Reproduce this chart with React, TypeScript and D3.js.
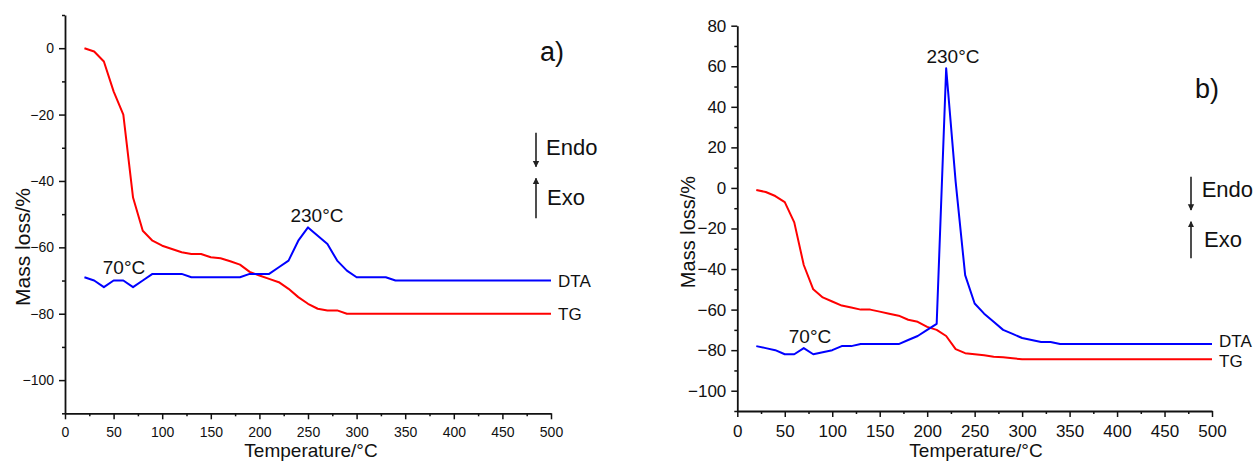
import { useEffect, useRef } from "react";
import * as d3 from "d3";

const W = 1254;
const H = 461;
const FONT = "'Liberation Sans', Arial, sans-serif";

// panel a) — TG (mass loss) and DTA traces
const tgATemp = [20, 30, 40, 50, 60, 70, 80, 90, 100, 110, 120, 130, 140, 150, 160, 170, 180, 190, 200, 210, 220, 230, 240, 250, 260, 270, 280, 290, 500];
const tgA = [0, -1, -4, -13, -20, -45, -55, -58, -59.5, -60.5, -61.5, -62, -62, -63, -63.3, -64.2, -65.2, -67.4, -68.5, -69.5, -70.5, -72.5, -75, -77, -78.5, -79, -79, -80, -80];
const dtaATemp = [20, 30, 40, 50, 60, 70, 80, 90, 120, 130, 180, 190, 210, 220, 230, 240, 250, 260, 270, 280, 290, 300, 330, 340, 500];
const dtaA = [-69, -70, -72, -70, -70, -72, -70, -68, -68, -69, -69, -68, -68, -66, -64, -58, -54, -56.5, -59, -64, -67, -69, -69, -70, -70];

// panel b)
const tgBTemp = [20, 30, 40, 50, 60, 70, 80, 90, 100, 110, 120, 130, 140, 150, 160, 170, 180, 190, 200, 210, 220, 230, 240, 250, 260, 270, 280, 290, 300, 500];
const tgB = [-1, -2, -4, -7, -17, -38, -50, -54, -56, -58, -59, -60, -60, -61, -62, -63, -65, -66, -68.5, -70, -73, -79.5, -81.5, -82, -82.5, -83.3, -83.5, -84, -84.5, -84.5];
const dtaBTemp = [20, 30, 40, 50, 60, 70, 80, 90, 100, 110, 120, 130, 170, 180, 190, 200, 210, 220, 230, 240, 250, 260, 270, 280, 290, 300, 310, 320, 330, 340, 500];
const dtaB = [-78, -79, -80, -82, -82, -79, -82, -81, -80, -78, -78, -77, -77, -75, -73, -70, -67, 59, 3, -43, -57, -62, -66, -70, -72, -74, -75, -76, -76, -77, -77];

// ticks
const xTicks = [0, 50, 100, 150, 200, 250, 300, 350, 400, 450, 500];
const xMinor = [25, 75, 125, 175, 225, 275, 325, 375, 425, 475];
const yTicksA = [-100, -80, -60, -40, -20, 0];
const yMinorA = [-110, -90, -70, -50, -30, -10, 10];
const yTicksB = [-100, -80, -60, -40, -20, 0, 20, 40, 60, 80];
const yMinorB = [-110, -90, -70, -50, -30, -10, 10, 30, 50, 70];

const panels = [
  {
    left: 65, right: 551, top: 15, bottom: 413.3, yDomain: [-110, 10],
    yTicks: yTicksA, yMinor: yMinorA, tickFont: 14,
    tg: { t: tgATemp, v: tgA }, dta: { t: dtaATemp, v: dtaA },
    yTitle: { x: 30, y: 247, size: 21 }, xTitle: { x: 311, y: 457 },
    tag: { text: "a)", x: 540, y: 61 },
    peaks: [{ text: "70°C", x: 124, y: 274 }, { text: "230°C", x: 317, y: 222 }],
    endo: { x: 536, y1: 132.7, y2: 166.7, tx: 546, ty: 155 },
    exo: { x: 536, y1: 218.3, y2: 178.3, tx: 547, ty: 205 },
    dtaLabelY: 286.7, tgLabelY: 320,
  },
  {
    left: 737.3, right: 1212, top: 25.7, bottom: 411, yDomain: [-110, 80],
    yTicks: yTicksB, yMinor: yMinorB, tickFont: 17,
    tg: { t: tgBTemp, v: tgB }, dta: { t: dtaBTemp, v: dtaB },
    yTitle: { x: 695, y: 232, size: 20 }, xTitle: { x: 976, y: 457 },
    tag: { text: "b)", x: 1195, y: 98.3 },
    peaks: [{ text: "70°C", x: 810, y: 343.3 }, { text: "230°C", x: 953, y: 63.3 }],
    endo: { x: 1191, y1: 176.7, y2: 210, tx: 1201.7, ty: 196.7 },
    exo: { x: 1191, y1: 258.3, y2: 221.7, tx: 1204, ty: 247.3 },
    dtaLabelY: 347.3, tgLabelY: 367.3,
  },
];

export default function App() {
  const ref = useRef(null);

  useEffect(() => {
    const svg = d3.select(ref.current);
    svg.selectAll("*").remove();

    svg.append("rect").attr("width", W).attr("height", H).attr("fill", "#fff");

    svg
      .append("defs")
      .append("marker")
      .attr("id", "head")
      .attr("viewBox", "0 0 10 10")
      .attr("refX", 9)
      .attr("refY", 5)
      .attr("markerWidth", 4)
      .attr("markerHeight", 5)
      .attr("markerUnits", "strokeWidth")
      .attr("orient", "auto")
      .append("path")
      .attr("d", "M0,0 L10,5 L0,10 z")
      .attr("fill", "#222");

    panels.forEach((p) => {
      const g = svg.append("g").style("font-family", FONT);

      const x = d3.scaleLinear().domain([0, 500]).range([p.left, p.right]);
      const y = d3.scaleLinear().domain(p.yDomain).range([p.bottom, p.top]);

      // x axis, major + minor ticks
      const xAxis = g.append("g").attr("transform", `translate(0,${p.bottom})`);
      xAxis.call(d3.axisBottom(x).tickValues(xTicks).tickSize(6).tickPadding(7.5).tickSizeOuter(0));
      xAxis
        .append("g")
        .call(d3.axisBottom(x).tickValues(xMinor).tickSize(3).tickFormat(() => ""))
        .select(".domain")
        .remove();

      // y axis
      const yAxis = g.append("g").attr("transform", `translate(${p.left},0)`);
      yAxis.call(d3.axisLeft(y).tickValues(p.yTicks).tickSize(6).tickPadding(5).tickSizeOuter(0));
      yAxis
        .append("g")
        .call(d3.axisLeft(y).tickValues(p.yMinor).tickSize(3).tickFormat(() => ""))
        .select(".domain")
        .remove();

      g.selectAll(".domain").attr("stroke", "#111").attr("stroke-width", 1.8);
      g.selectAll(".tick line").attr("stroke", "#111").attr("stroke-width", 1.5);
      g.selectAll(".tick text")
        .attr("fill", "#111")
        .style("font-size", p.tickFont + "px")
        .style("font-family", FONT);

      // traces
      const drawSeries = (s, color) => {
        const pts = s.t.map((t, i) => [x(t), y(s.v[i])]);
        g.append("path")
          .attr("d", d3.line()(pts))
          .attr("fill", "none")
          .attr("stroke", color)
          .attr("stroke-width", 2)
          .attr("stroke-linejoin", "round");
      };
      drawSeries(p.tg, "#ff0000");
      drawSeries(p.dta, "#0000ff");

      // series labels at line ends
      g.append("text")
        .attr("x", x(500) + 7)
        .attr("y", p.dtaLabelY)
        .attr("font-size", 17)
        .attr("fill", "#111")
        .text("DTA");
      g.append("text")
        .attr("x", x(500) + 7)
        .attr("y", p.tgLabelY)
        .attr("font-size", 17)
        .attr("fill", "#111")
        .text("TG");

      // peak temperatures
      p.peaks.forEach((pk) => {
        g.append("text")
          .attr("x", pk.x)
          .attr("y", pk.y)
          .attr("text-anchor", "middle")
          .attr("font-size", 19)
          .attr("fill", "#111")
          .text(pk.text);
      });

      // panel tag
      g.append("text")
        .attr("x", p.tag.x)
        .attr("y", p.tag.y)
        .attr("font-size", 27)
        .attr("fill", "#111")
        .text(p.tag.text);

      // Endo / Exo arrows
      [
        { a: p.endo, label: "Endo" },
        { a: p.exo, label: "Exo" },
      ].forEach(({ a, label }) => {
        g.append("line")
          .attr("x1", a.x)
          .attr("x2", a.x)
          .attr("y1", a.y1)
          .attr("y2", a.y2)
          .attr("stroke", "#222")
          .attr("stroke-width", 1.6)
          .attr("marker-end", "url(#head)");
        g.append("text")
          .attr("x", a.tx)
          .attr("y", a.ty)
          .attr("font-size", 22)
          .attr("fill", "#111")
          .text(label);
      });

      // axis titles
      g.append("text")
        .attr("transform", `translate(${p.yTitle.x},${p.yTitle.y}) rotate(-90)`)
        .attr("text-anchor", "middle")
        .attr("font-size", p.yTitle.size)
        .attr("fill", "#111")
        .text("Mass loss/%");
      g.append("text")
        .attr("x", p.xTitle.x)
        .attr("y", p.xTitle.y)
        .attr("text-anchor", "middle")
        .attr("font-size", 19)
        .attr("fill", "#111")
        .text("Temperature/°C");
    });
  }, []);

  return (
    <svg
      ref={ref}
      width={W}
      height={H}
      style={{ position: "absolute", left: 0, top: 0, display: "block" }}
    />
  );
}
